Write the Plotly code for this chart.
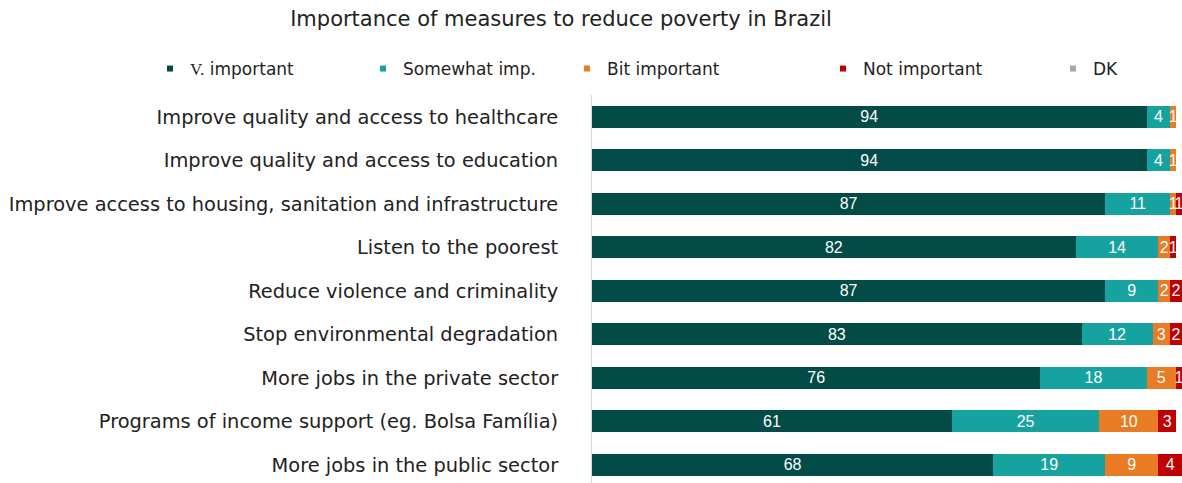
import plotly.graph_objects as go

categories = [
    "Improve quality and access to healthcare",
    "Improve quality and access to education",
    "Improve access to housing, sanitation and infrastructure",
    "Listen to the poorest",
    "Reduce violence and criminality",
    "Stop environmental degradation",
    "More jobs in the private sector",
    "Programs of income support (eg. Bolsa Família)",
    "More jobs in the public sector",
]
very_important = [94, 94, 87, 82, 87, 83, 76, 61, 68]
somewhat_imp = [4, 4, 11, 14, 9, 12, 18, 25, 19]
bit_important = [1, 1, 1, 2, 2, 3, 5, 10, 9]
not_important = [0, 0, 1, 1, 2, 2, 1, 3, 4]
dont_know = [0, 0, 0, 0, 0, 0, 0, 0, 0]

series = [
    ("<span style='font-family:Liberation Serif'>V.</span> important", very_important, "#024B47"),
    ("Somewhat imp.", somewhat_imp, "#16A3A0"),
    ("Bit important", bit_important, "#E97B24"),
    ("Not important", not_important, "#C00000"),
    ("DK", dont_know, "#A6A6A6"),
]
legend_marker_px = [170, 383, 587, 843, 1073]

FONT = "DejaVu Sans"
W, H = 1182, 483
TOP = 95
UNIT = 43.5
span = (H - TOP) / UNIT

fig = go.Figure()
for i, (name, vals, color) in enumerate(series):
    lg = "legend" if i == 0 else f"legend{i+1}"
    fig.add_trace(go.Bar(
        y=categories, x=vals, orientation="h", name=name,
        marker=dict(color=color, line=dict(width=0)),
        text=[str(v) if v > 0 else "" for v in vals],
        textposition="inside", insidetextanchor="middle", textangle=0,
        textfont=dict(color="white", size=16, family="Liberation Sans"),
        constraintext="none", cliponaxis=True,
        showlegend=False, hoverinfo="skip",
    ))
    fig.add_trace(go.Scatter(
        x=[None], y=[None], mode="markers", name=name,
        xaxis="x2", yaxis="y2",
        marker=dict(symbol="square", size=6, color=color),
        legend=lg, showlegend=True,
    ))

layout_legends = {}
for i, px in enumerate(legend_marker_px):
    key = "legend" if i == 0 else f"legend{i+1}"
    layout_legends[key] = dict(
        xref="container", yref="container",
        x=(px - 20) / W, y=1 - 51 / H, xanchor="left", yanchor="top",
        bgcolor="rgba(0,0,0,0)", borderwidth=0,
        font=dict(family=FONT, size=17, color="#222"),
        itemwidth=30,
    )

fig.update_layout(
    width=W, height=H,
    barmode="stack", bargap=0.5,
    plot_bgcolor="white", paper_bgcolor="white",
    margin=dict(l=592, r=0, t=TOP, b=0, autoexpand=False),
    title=dict(text="Importance of measures to reduce poverty in Brazil",
               x=561 / W, xanchor="center", y=1 - 19 / H, yanchor="middle",
               font=dict(family=FONT, size=21, color="#222")),
    uniformtext=dict(minsize=16, mode="show"),
    xaxis=dict(range=[0, 100], visible=False, fixedrange=True),
    yaxis=dict(categoryorder="array", categoryarray=categories,
               range=[span - 0.5, -0.5], showgrid=False, zeroline=False,
               showline=True, linecolor="#D9D9D9", linewidth=1,
               ticks="", ticklabelstandoff=29, automargin=False,
               tickfont=dict(family=FONT, size=19.4, color="#222")),
    xaxis2=dict(range=[0, 1], visible=False, overlaying="x"),
    yaxis2=dict(range=[0, 1], visible=False, overlaying="y"),
    **layout_legends,
)

fig.write_html(
    "out.html",
    config={"displayModeBar": False},
    post_script="document.body.style.margin='0';document.body.style.overflow='hidden';",
)
